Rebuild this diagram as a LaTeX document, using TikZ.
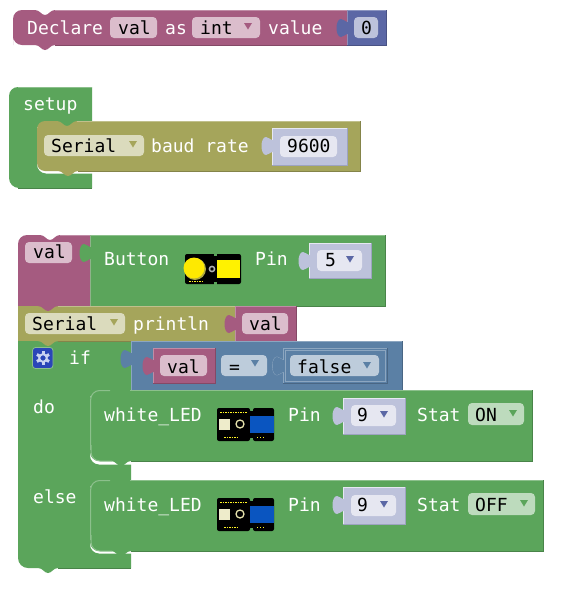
\documentclass[tikz,border=0pt]{standalone}
\usepackage{fontspec}
\setmainfont{DejaVu Sans Mono}
\definecolor{grn}{HTML}{5BA55B}\definecolor{grnL}{HTML}{8CC08C}\definecolor{grnD}{HTML}{498449}
\definecolor{mag}{HTML}{A55B80}\definecolor{magL}{HTML}{C08CA6}\definecolor{magD}{HTML}{844966}
\definecolor{olv}{HTML}{A5A55B}\definecolor{olvL}{HTML}{C0C08C}\definecolor{olvD}{HTML}{848449}
\definecolor{blu}{HTML}{5B80A5}\definecolor{bluL}{HTML}{8CA6C0}\definecolor{bluD}{HTML}{496684}
\definecolor{ind}{HTML}{5B67A5}\definecolor{indL}{HTML}{8C95C0}\definecolor{indD}{HTML}{495284}
\definecolor{slt}{HTML}{BDC2DB}\definecolor{sltL}{HTML}{E6E8F2}\definecolor{sltD}{HTML}{9DA3C0}
\definecolor{fmag}{HTML}{DBBDCC}\definecolor{folv}{HTML}{DBDBBD}\definecolor{fgrn}{HTML}{BDDBBD}
\definecolor{fblu}{HTML}{BDCCDB}\definecolor{find}{HTML}{BDC2DB}\definecolor{fslt}{HTML}{E6E7F1}
\definecolor{gearbg}{HTML}{2A46B8}\definecolor{gearfg}{HTML}{C9D3F2}
\definecolor{ledblue}{HTML}{0A55C0}
\tikzset{
 x=1pt,y=-1pt,
 wtxt/.style={anchor=base west,inner sep=0pt,text=white,font=\fontsize{18}{18}\selectfont},
 btxt/.style={anchor=base west,inner sep=0pt,text=black,font=\fontsize{18}{18}\selectfont},
}
% notch left-to-right starting at x,y (20 wide, 5 deep)
\def\nlr#1#2{.. controls ({#1+5},{#2}) and ({#1+6},{#2+5}) .. ({#1+10},{#2+5}) .. controls ({#1+14},{#2+5}) and ({#1+15},{#2}) .. ({#1+20},{#2})}
% notch right-to-left ending 20 to the left of x
\def\nrl#1#2{.. controls ({#1-5},{#2}) and ({#1-6},{#2+5}) .. ({#1-10},{#2+5}) .. controls ({#1-14},{#2+5}) and ({#1-15},{#2}) .. ({#1-20},{#2})}
% puzzle tab on a slot's left side: x, top y of the slot, colour
\newcommand\ptabpath[2]{({#1+1},{#2+12}) -- ({#1},{#2+12}) .. controls ({#1-2},{#2+12}) and ({#1-3},{#2+9}) .. ({#1-6},{#2+9}) .. controls ({#1-12},{#2+9}) and ({#1-12},{#2+27}) .. ({#1-6},{#2+27}) .. controls ({#1-3},{#2+27}) and ({#1-2},{#2+24}) .. ({#1},{#2+24}) -- ({#1+1},{#2+24})}
\newcommand\ptab[3]{\fill[#3] \ptabpath{#1}{#2} -- cycle;}
% edge lines: x1,y1,x2,y2,light,dark
\newcommand\edg[6]{\draw[#5,line width=1pt] (#1,#4) -- (#1,#2) -- (#3,#2);\draw[#6,line width=1pt] (#3,#2) -- (#3,#4) -- (#1,#4);}
% plain rectangle with edges
\newcommand\rblock[7]{\fill[#5] (#1,#2) rectangle (#3,#4);\edg{#1}{#2}{#3}{#4}{#6}{#7}}
% field background
\newcommand\fld[5]{\fill[#5,rounded corners=4pt] (#1,#2) rectangle (#3,#4);}
% dropdown triangle: cx, cy, colour
\newcommand\tri[3]{\fill[#3] ({#1-4},{#2-3}) -- ({#1+4},{#2-3}) -- ({#1},{#2+3.5}) -- cycle;}
\newcommand\ledimg[2]{%
 \begin{scope}[shift={(#1,#2)}]
 \fill[black,rounded corners=2pt] (0,0) rectangle (33,33);
 \fill[black,rounded corners=2pt] (36,0) rectangle (57,33);
 \fill[black] (30,3) rectangle (38,30);
 \fill[ledblue] (33,8) rectangle (57,25);
 \fill[white!85!olive] (2,11) rectangle (13,22);
 \draw[white!75!olive,line width=1.3pt] (23,16) circle[radius=4];
 \draw[yellow!85!white,line width=.7pt,dash pattern=on 1.5pt off 1pt] (3,4) -- (30,4);
 \draw[yellow!85!white,line width=.7pt,dash pattern=on 1.5pt off 1pt] (7,29) -- (22,29);
 \draw[yellow!85!white,line width=.7pt,dash pattern=on 1pt off 2pt] (40,29) -- (48,29);
 \end{scope}}
\begin{document}
\begin{tikzpicture}
\useasboundingbox (0,0) rectangle (561,595);
\fill[white] (0,0) rectangle (561,595);
% ---------- declare
\fill[ind] (347,10) rectangle (386.5,45);
\edg{347}{10}{386.5}{45}{indL}{indD}
\fill[mag] (13,45) [rounded corners=9pt] -- (13,10) [sharp corners] -- (35,10) \nlr{35}{10} -- (347,10) -- (347,45) -- (55,45) \nrl{55}{45} -- (35,45) [rounded corners=9pt] -- (13,45) [sharp corners] -- (13,25) -- cycle;
\draw[magL,line width=1pt] (55,10.5) -- (347,10.5);
\draw[magD,line width=.8pt] (55,45) -- (347,45);
\ptab{347}{10}{ind}
\fld{110}{17}{157}{38}{fmag}\fld{192}{17}{260}{38}{fmag}\fld{354}{17}{378}{38}{find}
\tri{248}{26}{mag}
\node[wtxt] (t1) at (27,34) {Declare};
\node[btxt] (t2) at (118,34) {val};
\node[wtxt] (t3) at (165,34) {as};
\node[btxt] (t4) at (200,34) {int};
\node[wtxt] (t5) at (268,34) {value};
\node[btxt] (t6) at (361,34) {0};
% ---------- setup
\fill[grn,rounded corners=9pt] (9,120) -- (9,87) [sharp corners] -- (92,87) -- (92,127) -- (37,127) [rounded corners=9pt] -- (37,173.5) [sharp corners] -- (92,173.5) -- (92,188) [rounded corners=10pt] -- (9,188) [sharp corners] -- (9,120) -- cycle;
\draw[grnL,line width=1pt] (18,87.5) -- (92,87.5);
\draw[grnD,line width=.8pt] (18,188) -- (92,188);
\fill[olv] (37,140) [rounded corners=8pt] -- (37,121) [sharp corners] -- (57,121) \nlr{57}{121} -- (360,121) -- (360,171) -- (78,171) \nrl{78}{171} -- (50,171) [rounded corners=8pt] -- (37,171) [sharp corners] -- (37,140) -- cycle;
\draw[olvL,line width=1pt] (77,121.5) -- (360,121.5);
\draw[olvD,line width=.8pt] (360,121) -- (360,171) -- (78,171);
\rblock{272}{128}{347}{165}{slt}{sltL}{sltD}
\ptab{272}{128}{slt}
\fld{44}{135}{144}{156}{folv}\fld{280}{136}{337}{157}{fslt}
\tri{133}{144}{olv}
\node[wtxt] (t7) at (23,110) {setup};
\node[btxt] (t8) at (51,152) {Serial};
\node[wtxt] (t9) at (151,152) {baud rate};
\node[btxt] (t10) at (287,152) {9600};
% ---------- button row
\fill[grn] (90,235) rectangle (385,306);
\edg{90}{235}{385}{306}{grnL}{grnD}
\fill[mag] (18,306) [rounded corners=9pt] -- (18,235) [sharp corners] -- (40,235) \nlr{40}{235} -- (90,235) -- (90,306) -- cycle;
\draw[magL,line width=1pt] (60,235.5) -- (90,235.5);
\ptab{90}{235}{grn}
\rblock{309}{243}{371}{278}{slt}{sltL}{sltD}
\ptab{309}{243}{slt}
\fld{25}{242}{72}{263}{fmag}\fld{317}{250}{362}{271}{fslt}
\tri{350}{259}{ind}
\node[btxt] (t11) at (33,258) {val};
\node[wtxt] (t12) at (104,265) {Button};
\node[wtxt] (t13) at (255,265) {Pin};
\node[btxt] (t14) at (325,266) {5};
% button image
\fill[black,rounded corners=2pt] (185,254) rectangle (241,284);
\fill[grn] (214,252) rectangle (217,256);\fill[grn] (214,282) rectangle (217,286);
\fill[yellow!65!black] (195,269) circle[radius=11];
\fill[yellow!92!orange] (194,268) circle[radius=10.5];
\draw[white!70!black,line width=1.5pt] (212,269) circle[radius=2.6];
\fill[yellow] (217,260) rectangle (240,278);
\draw[yellow!85!white,line width=.7pt,dash pattern=on 1.5pt off 1pt] (189,281.5) -- (202,281.5);
% ---------- println
\fill[mag] (235,306) rectangle (296,341);
\edg{235}{306}{296}{341}{magL}{magD}
\fill[olv] (18,306) -- (235,306) -- (235,341) -- (18,341) -- cycle;
\draw[olvL,line width=1pt] (58,306.5) -- (235,306.5);
\fill[mag] (36,305.5) -- (58,305.5) -- (58,306) \nrl{58}{306} -- cycle;
\fld{25}{313}{125}{334}{folv}\fld{242}{313}{288}{334}{fmag}
\tri{114}{322}{olv}
\ptab{235}{306}{mag}
\node[btxt] (t15) at (32,330) {Serial};
\node[wtxt] (t16) at (133,330) {println};
\node[btxt] (t17) at (249,330) {val};
% ---------- if / else outer
\fill[grn] (18,341) -- (131,341) -- (131,396) -- (90,396) [rounded corners=9pt] -- (90,464.5) [sharp corners] -- (131,464.5) -- (131,486) -- (90,486) [rounded corners=9pt] -- (90,553.5) [sharp corners] -- (131,553.5) -- (131,568) -- (58,568) \nrl{58}{568} -- (38,568) [rounded corners=10pt] -- (18,568) [sharp corners] -- (18,450) -- cycle;
\draw[grnD,line width=.8pt] (131,568) -- (58,568);
\fill[olv] (36,340.5) -- (58,340.5) -- (58,341) \nrl{58}{341} -- cycle;
\draw[olvD,line width=.8pt] (58,341) -- (235,341);
% if condition
\fill[blu] (131,341) rectangle (402,390);
\edg{131}{341}{402}{390}{bluL}{bluD}
\ptab{131}{341}{blu}
\rblock{153}{348}{215}{383}{mag}{magL}{magD}
\ptab{153}{348}{mag}
\draw[bluL,line width=.8pt] \ptabpath{283}{348};
\rblock{283}{348}{387}{383}{blu}{bluL}{bluD}
\draw[bluL,line width=.8pt] (285,350) rectangle (385,381);
\ptab{283}{348}{blu}
\fld{160}{355}{207}{376}{fmag}\fld{221}{355}{267}{376}{fblu}\fld{290}{355}{379}{376}{fblu}
\tri{255}{363}{blu}\tri{367}{365}{blu}
\node[wtxt] (t18) at (69,364) {if};
\node[btxt] (t19) at (167,373) {val};
\node[btxt] (t20) at (229,373) {=};
\node[btxt] (t21) at (297,373) {false};
% gear
\fill[gearbg,draw=grnL,line width=.8pt,rounded corners=3pt] (32.5,347.5) rectangle (53,368.5);
\foreach \a in {0,60,...,300}{\fill[gearfg,shift={(43,358)},rotate=\a] (-1.5,-7) rectangle (1.5,-3);}
\draw[gearfg,line width=2pt] (43,358) circle[radius=3.8];
\node[wtxt] (t22) at (33,413) {do};
\node[wtxt] (t23) at (33,503) {else};
% ---------- white_LED 1
\fill[grn] (90,410) [rounded corners=9pt] -- (90,390) [sharp corners] -- (110,390) \nlr{110}{390} -- (532,390) -- (532,461) -- (131,461) \nrl{131}{461} -- (103,461) [rounded corners=9pt] -- (90,461) [sharp corners] -- (90,410) -- cycle;
\draw[grnL,line width=1pt,rounded corners=9pt] (90.7,450) -- (90.7,390.5) -- (110,390.5);
\draw[grnL,line width=1pt] (130,390.5) -- (532,390.5);
\draw[grnL,line width=1pt,rounded corners=9pt] (91,445) -- (91,461) -- (112,461);
\draw[grnD,line width=.8pt] (532,390) -- (532,461) -- (131,461);
\rblock{343}{398}{405}{434}{slt}{sltL}{sltD}
\ptab{343}{398}{slt}
\fld{351}{405}{396}{426}{fslt}\fld{468}{403}{524}{425}{fgrn}
\tri{384}{414}{ind}\tri{513}{413}{grn}
\ledimg{217}{408}
\node[wtxt] (t24) at (104,421) {white\_LED};
\node[wtxt] (t25) at (288,421) {Pin};
\node[btxt] (t26) at (357,421) {9};
\node[wtxt] (t27) at (417,421) {Stat};
\node[btxt] (t28) at (475,421) {ON};
% ---------- white_LED 2
\fill[grn] (90,500) [rounded corners=9pt] -- (90,480) [sharp corners] -- (110,480) \nlr{110}{480} -- (543,480) -- (543,551) -- (131,551) \nrl{131}{551} -- (103,551) [rounded corners=9pt] -- (90,551) [sharp corners] -- (90,500) -- cycle;
\draw[grnL,line width=1pt,rounded corners=9pt] (90.7,540) -- (90.7,480.5) -- (110,480.5);
\draw[grnL,line width=1pt] (130,480.5) -- (543,480.5);
\draw[grnL,line width=1pt,rounded corners=9pt] (91,535) -- (91,551) -- (112,551);
\draw[grnD,line width=.8pt] (543,480) -- (543,551) -- (131,551);
\rblock{343}{487}{405}{524}{slt}{sltL}{sltD}
\ptab{343}{487}{slt}
\fld{351}{495}{396}{516}{fslt}\fld{468}{493}{535}{515}{fgrn}
\tri{384}{504}{ind}\tri{524}{503}{grn}
\ledimg{217}{498}
\node[wtxt] (t29) at (104,511) {white\_LED};
\node[wtxt] (t30) at (288,511) {Pin};
\node[btxt] (t31) at (357,511) {9};
\node[wtxt] (t32) at (417,511) {Stat};
\node[btxt] (t33) at (475,511) {OFF};
\end{tikzpicture}
\end{document}
